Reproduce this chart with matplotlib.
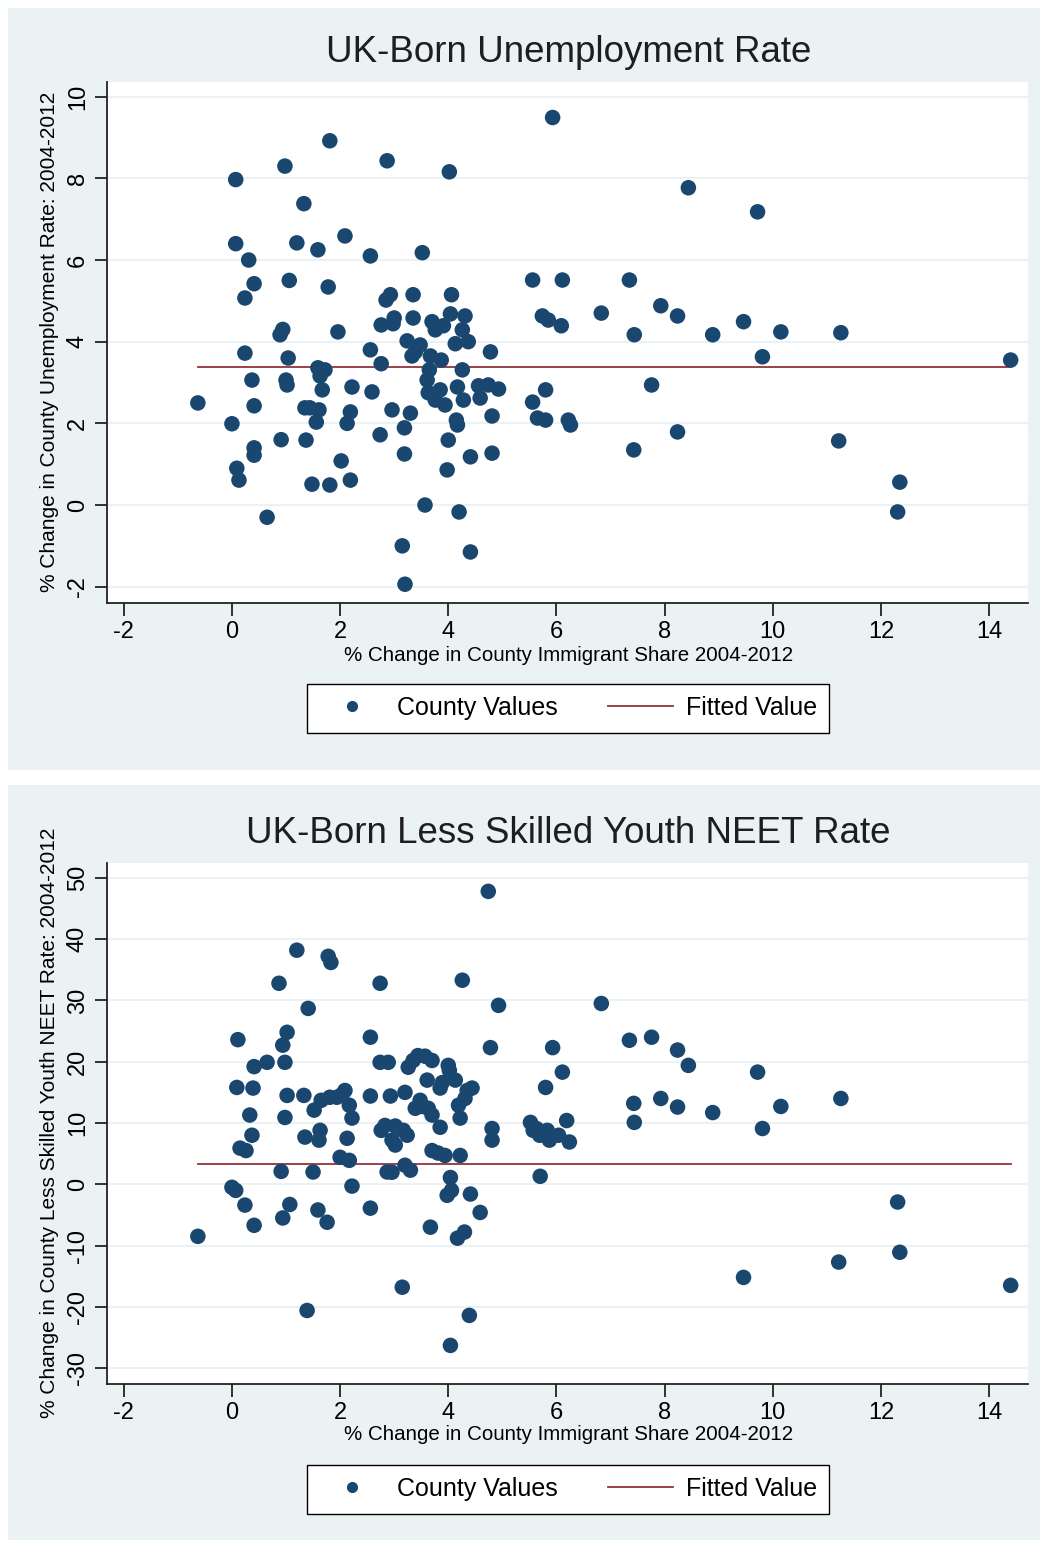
import matplotlib.pyplot as plt
import matplotlib.patches as mpatches
from matplotlib.lines import Line2D
import numpy as np

# top panel: change in immigrant share vs change in UK-born unemployment rate
x_unemp = [-0.63, 0.0, 0.07, 0.07, 0.09, 0.13, 0.24, 0.24, 0.31, 0.37, 0.41, 0.41, 0.41, 0.41,
           0.65, 0.89, 0.91, 0.94, 0.98, 1.0, 1.02, 1.04, 1.06, 1.2, 1.33, 1.35, 1.37, 1.44,
           1.48, 1.56, 1.59, 1.59, 1.61, 1.63, 1.67, 1.72, 1.78, 1.81, 1.81, 1.96, 2.02, 2.09,
           2.13, 2.19, 2.19, 2.22, 2.56, 2.56, 2.59, 2.74, 2.76, 2.76, 2.85, 2.87, 2.93, 2.96,
           2.98, 3.0, 3.15, 3.19, 3.19, 3.2, 3.24, 3.3, 3.35, 3.35, 3.33, 3.39, 3.48, 3.52,
           3.57, 3.61, 3.63, 3.65, 3.67, 3.7, 3.76, 3.76, 3.85, 3.87, 3.91, 3.94, 3.98, 4.0,
           4.02, 4.04, 4.06, 4.13, 4.15, 4.17, 4.17, 4.2, 4.26, 4.26, 4.28, 4.31, 4.37, 4.41,
           4.41, 4.56, 4.59, 4.74, 4.78, 4.81, 4.81, 4.93, 5.56, 5.56, 5.65, 5.74, 5.8, 5.8,
           5.85, 5.93, 6.09, 6.11, 6.22, 6.26, 6.83, 7.35, 7.43, 7.44, 7.76, 7.93, 8.24, 8.24,
           8.44, 8.89, 9.46, 9.72, 9.81, 10.15, 11.26, 11.22, 12.35, 12.31, 14.4]
y_unemp = [2.5, 1.99, 7.97, 6.4, 0.9, 0.61, 5.07, 3.72, 6.0, 3.06, 5.42, 2.43, 1.4, 1.22,
           -0.3, 4.17, 1.6, 4.3, 8.3, 3.06, 2.94, 3.6, 5.5, 6.42, 7.38, 2.38, 1.59, 2.38,
           0.51, 2.03, 6.25, 3.36, 2.33, 3.16, 2.82, 3.31, 5.34, 0.49, 8.92, 4.24, 1.08, 6.59,
           2.0, 0.61, 2.28, 2.89, 3.8, 6.1, 2.77, 1.72, 3.46, 4.41, 5.02, 8.43, 5.15, 2.33,
           4.44, 4.58, -1.0, 1.25, 1.89, -1.94, 4.02, 2.25, 5.15, 4.58, 3.65, 3.75, 3.92, 6.18,
           0.0, 3.06, 2.75, 3.31, 3.65, 4.49, 4.29, 2.57, 2.82, 3.55, 4.39, 2.45, 0.86, 1.59,
           8.16, 4.68, 5.15, 3.95, 2.08, 2.89, 1.96, -0.17, 4.29, 3.31, 2.57, 4.63, 4.0, 1.18,
           -1.15, 2.92, 2.62, 2.94, 3.75, 2.18, 1.27, 2.84, 5.51, 2.52, 2.13, 4.63, 2.08, 2.82,
           4.53, 9.49, 4.39, 5.51, 2.08, 1.96, 4.7, 5.51, 1.35, 4.17, 2.94, 4.88, 4.63, 1.79,
           7.77, 4.17, 4.49, 7.18, 3.63, 4.24, 4.22, 1.57, 0.56, -0.17, 3.55]
fit_unemp = 3.38

# bottom panel: change in immigrant share vs change in less skilled youth NEET rate
x_neet = [-0.63, 0.0, 0.07, 0.11, 0.09, 0.15, 0.24, 0.26, 0.33, 0.37, 0.39, 0.41, 0.41, 0.65,
          0.87, 0.91, 0.94, 0.94, 0.98, 0.98, 1.02, 1.02, 1.07, 1.2, 1.33, 1.35, 1.39, 1.41,
          1.5, 1.52, 1.59, 1.61, 1.63, 1.65, 1.76, 1.78, 1.83, 1.81, 1.94, 2.0, 2.04, 2.09,
          2.13, 2.17, 2.17, 2.22, 2.22, 2.56, 2.56, 2.56, 2.74, 2.74, 2.76, 2.83, 2.87, 2.89,
          2.96, 2.93, 2.96, 3.02, 3.02, 3.15, 3.2, 3.17, 3.2, 3.24, 3.26, 3.3, 3.35, 3.39,
          3.44, 3.48, 3.52, 3.57, 3.61, 3.63, 3.67, 3.7, 3.7, 3.7, 3.81, 3.85, 3.85, 3.89,
          3.94, 3.98, 4.0, 4.02, 4.04, 4.06, 4.04, 4.13, 4.17, 4.19, 4.22, 4.22, 4.26, 4.3,
          4.31, 4.35, 4.39, 4.41, 4.44, 4.59, 4.74, 4.78, 4.81, 4.81, 4.93, 5.52, 5.57, 5.63,
          5.69, 5.7, 5.8, 5.83, 5.87, 5.93, 6.04, 6.11, 6.19, 6.24, 6.83, 7.35, 7.43, 7.44,
          7.76, 7.93, 8.24, 8.24, 8.44, 8.89, 9.46, 9.72, 9.81, 10.15, 11.22, 11.26, 12.31,
          12.35, 14.4]
y_neet = [-8.5, -0.5, -1.0, 23.6, 15.8, 5.9, -3.4, 5.5, 11.3, 8.0, 15.7, 19.2, -6.7, 19.9,
          32.8, 2.1, 22.7, -5.5, 10.9, 19.9, 24.8, 14.5, -3.3, 38.2, 14.5, 7.7, -20.6, 28.7,
          2.0, 12.1, -4.2, 7.2, 8.8, 13.7, -6.2, 37.2, 36.2, 14.2, 14.2, 4.4, 14.7, 15.3,
          7.5, 12.9, 3.9, -0.3, 10.8, -3.9, 24.0, 14.4, 32.8, 19.9, 8.8, 9.6, 2.0, 19.9,
          1.96, 14.4, 7.2, 9.5, 6.4, -16.8, 15.0, 8.8, 3.1, 8.0, 19.1, 2.3, 20.2, 12.4,
          21.0, 13.7, 12.7, 20.9, 17.0, 12.4, -7.0, 11.3, 20.2, 5.5, 5.1, 15.7, 9.3, 16.6,
          4.7, -1.8, 19.4, 18.6, 1.1, -1.0, -26.3, 17.0, -8.8, 12.9, 4.7, 10.8, 33.3, -7.8,
          14.0, 15.3, -21.4, -1.6, 15.7, -4.6, 47.8, 22.3, 9.1, 7.2, 29.2, 10.1, 8.8, 9.1,
          8.0, 1.3, 15.8, 8.8, 7.2, 22.3, 8.0, 18.3, 10.4, 6.9, 29.5, 23.5, 13.2, 10.1,
          24.0, 14.0, 21.9, 12.6, 19.4, 11.7, -15.2, 18.3, 9.1, 12.7, -12.7, 14.0, -2.9,
          -11.1, -16.5]
fit_neet = 3.3

x_ticks = [-2, 0, 2, 4, 6, 8, 10, 12, 14]
y_ticks_unemp = [-2, 0, 2, 4, 6, 8, 10]
y_ticks_neet = [-30, -20, -10, 0, 10, 20, 30, 40, 50]

navy = '#1a476f'
maroon = '#90353b'
bg = '#eaf2f3'
plain = ['Liberation Sans', 'DejaVu Sans']
plt.rcParams['axes.unicode_minus'] = False

fig = plt.figure(figsize=(10.43, 15.45), dpi=100)
fig.patches.append(mpatches.Rectangle((0.0077, 0.5016), 0.9894, 0.4932, transform=fig.transFigure,
                                      facecolor=bg, edgecolor='none', zorder=-5))
fig.patches.append(mpatches.Rectangle((0.0077, 0.0032), 0.9894, 0.4887, transform=fig.transFigure,
                                      facecolor=bg, edgecolor='none', zorder=-5))

panels = [
    (0.6097, x_unemp, y_unemp, fit_unemp, y_ticks_unemp, (-2.4, 10.37),
     'UK-Born Unemployment Rate', '% Change in County Unemployment Rate: 2004-2012', 0.9663, 0.576, 0.5417),
    (0.1042, x_neet, y_neet, fit_neet, y_ticks_neet, (-32.6, 52.5),
     'UK-Born Less Skilled Youth NEET Rate', '% Change in County Less Skilled Youth NEET Rate: 2004-2012', 0.4608, 0.0712, 0.0362),
]

for bottom, xs, ys, fit, yt, ylim, title, ylab, ty, xly, legy in panels:
    ax = fig.add_axes([0.1026, bottom, 0.883, 0.3375])
    ax.set_facecolor('white')
    for yv in yt:
        ax.axhline(yv, color=bg, lw=1.5, zorder=0)
    ax.scatter(xs, ys, s=125, color=navy, edgecolors='none', zorder=3)
    ax.plot([min(xs), max(xs)], [fit, fit], color=maroon, lw=1.3, zorder=2)
    ax.set_xlim(-2.31, 14.72)
    ax.set_ylim(*ylim)
    ax.set_xticks(x_ticks)
    ax.set_yticks(yt)
    for s in ['top', 'right']:
        ax.spines[s].set_visible(False)
    for s in ['left', 'bottom']:
        ax.spines[s].set_color('#222222')
        ax.spines[s].set_linewidth(1.3)
    ax.tick_params(direction='out', length=9, width=1.3, color='#222222', pad=4)
    for lab in ax.get_xticklabels():
        lab.set_family(plain)
        lab.set_fontsize(17)
    for lab in ax.get_yticklabels():
        lab.set_family(plain)
        lab.set_fontsize(17)
        lab.set_rotation(90)
        lab.set_va('center')
    ax.set_ylabel(ylab, family=plain, fontsize=15, labelpad=6)
    fig.text(0.545, xly, '% Change in County Immigrant Share 2004-2012', family=plain,
             fontsize=14.8, ha='center', va='center')
    fig.text(0.545, ty, title, family=plain, fontsize=26.5, ha='center', va='center', color='#1e1e1e')
    handles = [Line2D([], [], marker='o', ls='none', color=navy, markersize=7),
               Line2D([], [], color=maroon, lw=1.3)]
    fig.legend(handles, ['County Values', 'Fitted Value'], loc='center', bbox_to_anchor=(0.545, legy),
               ncol=2, frameon=True, fancybox=False, edgecolor='black', framealpha=1,
               prop={'family': plain, 'size': 18}, handlelength=2.6, columnspacing=2.0,
               borderpad=0.5, handletextpad=0.5, borderaxespad=0)

fig.savefig('out.png', dpi=100)
